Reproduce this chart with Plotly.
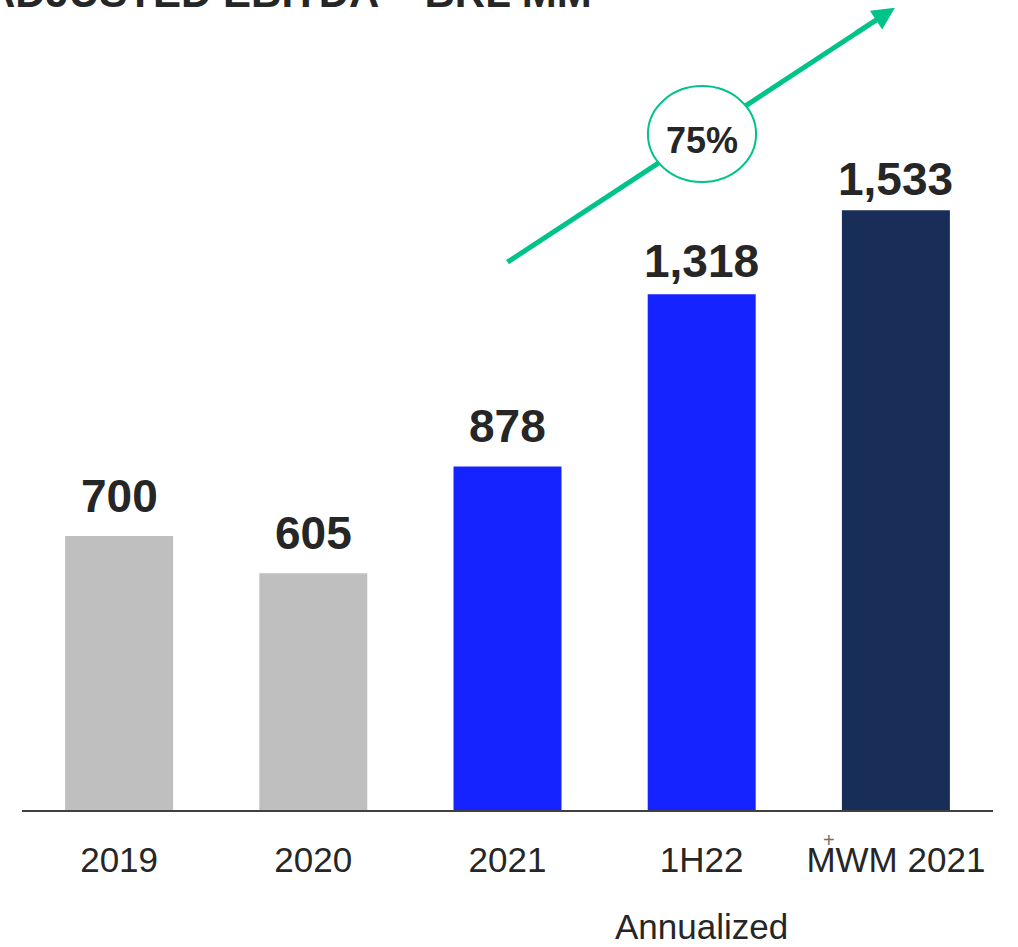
import plotly.graph_objects as go

# Adjusted EBITDA, BRL MM
categories = ["2019", "2020", "2021", "1H22", "MWM 2021"]
ebitda = [700, 605, 878, 1318, 1533]
value_labels = ["700", "605", "878", "1,318", "1,533"]
growth_label = "75%"

bar_colors = ["#BFBFBF", "#BFBFBF", "#1423FF", "#1423FF", "#182D57"]
label_lift = [12, 12, 12, 5, 3]   # px between bar top and its value label

FONT = "Liberation Sans, Arial, sans-serif"
TEXT = "#262626"
GREEN = "#00C389"
PX_PER_CAT = 194.2
PX_PER_UNIT = 810 / 2070

fig = go.Figure()
fig.add_trace(go.Bar(
    x=list(range(len(categories))),
    y=ebitda,
    marker=dict(color=bar_colors, line=dict(width=0)),
    hoverinfo="skip",
))

# value labels above each bar
for i, (v, lab) in enumerate(zip(ebitda, value_labels)):
    fig.add_annotation(x=i, y=v, text=f"<b>{lab}</b>", showarrow=False,
                       yanchor="bottom", yshift=label_lift[i],
                       font=dict(family=FONT, size=46, color=TEXT))

# growth arrow: line body, then the head as an annotation arrow
tail = (2.0, 1400)
tip = (3.995, 2050)
head_px = (-40, 26)
body_px = (-16, 10.4)  # body runs into the arrowhead so there is no gap
body_end = (tip[0] + body_px[0] / PX_PER_CAT, tip[1] - body_px[1] / PX_PER_UNIT)
fig.add_shape(type="line", x0=tail[0], y0=tail[1], x1=body_end[0], y1=body_end[1],
              xref="x", yref="y", line=dict(color=GREEN, width=5), layer="above")
fig.add_annotation(x=tip[0], y=tip[1], ax=head_px[0], ay=head_px[1], text="",
                   showarrow=True, arrowhead=2, arrowsize=0.9, arrowwidth=5,
                   arrowcolor=GREEN, standoff=0)

# growth bubble
fig.add_shape(type="circle", x0=2.723, x1=3.280, y0=1605, y1=1850,
              xref="x", yref="y", fillcolor="white",
              line=dict(color=GREEN, width=2), layer="above")
fig.add_annotation(x=3.0, y=1712, text=f"<b>{growth_label}</b>", showarrow=False,
                   font=dict(family=FONT, size=36, color=TEXT))

# sub-label under 1H22 and footnote mark over MWM
fig.add_annotation(x=3, y=0, yref="y", text="Annualized", showarrow=False,
                   yanchor="middle", yshift=-116,
                   font=dict(family=FONT, size=35, color=TEXT))
fig.add_annotation(x=3.655, y=0, yref="y", text="+", showarrow=False,
                   yanchor="middle", yshift=-30,
                   font=dict(family=FONT, size=20, color="#707070"))

# title, running off the top edge
fig.add_annotation(x=(594 - 22) / 971, xref="paper", y=1, yref="paper",
                   text="<b>ADJUSTED EBITDA – BRL MM</b>", showarrow=False,
                   xanchor="right", yanchor="middle", yshift=8,
                   font=dict(family=FONT, size=42, color=TEXT))

fig.update_layout(
    width=1018, height=947,
    margin=dict(l=22, r=25, t=0, b=137),
    paper_bgcolor="white", plot_bgcolor="white",
    showlegend=False, bargap=0.444,
    xaxis=dict(
        range=[-0.5, 4.5], tickmode="array",
        tickvals=list(range(len(categories))), ticktext=categories,
        showline=True, linecolor="#404040", linewidth=2,
        showgrid=False, zeroline=False, ticks="",
        tickfont=dict(family=FONT, size=35, color=TEXT),
        ticklabelstandoff=18,
    ),
    yaxis=dict(range=[0, 2070], visible=False, showgrid=False, zeroline=False),
)

fig.write_html("out.html")
